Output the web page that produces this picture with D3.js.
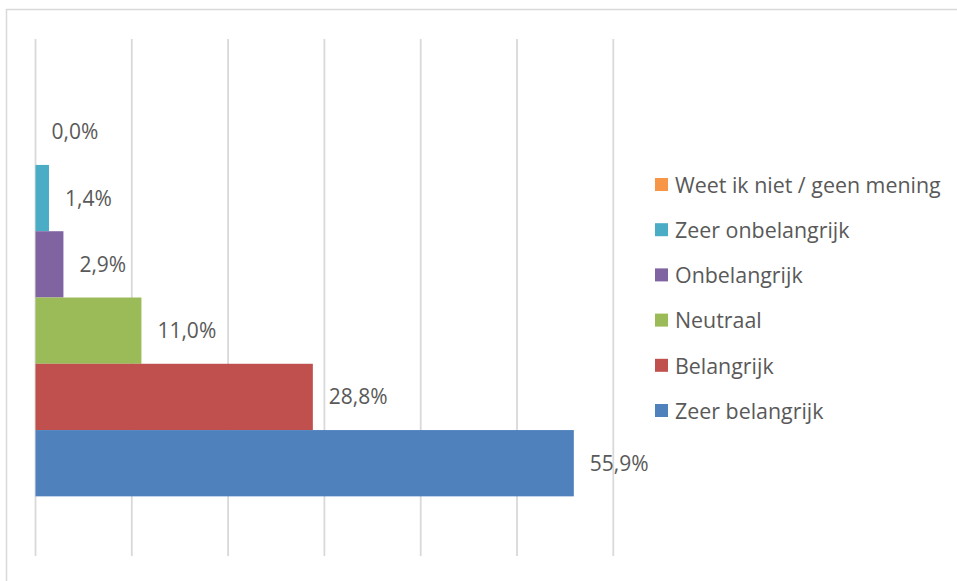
<!DOCTYPE html>
<html>
<head>
<meta charset="utf-8">
<script src="https://cdn.jsdelivr.net/npm/d3@7"></script>
<style>
  html, body { margin: 0; padding: 0; background: #fff; }
  svg { display: block; }
  text { font-family: "Open Sans", "Noto Sans", sans-serif; fill: #595959; }
</style>
</head>
<body>
<svg id="chart" width="957" height="581"></svg>
<script>
// Data (series in legend order, top to bottom)
const series = ["Weet ik niet / geen mening", "Zeer onbelangrijk", "Onbelangrijk", "Neutraal", "Belangrijk", "Zeer belangrijk"];
const values = [0.0, 1.4, 2.9, 11.0, 28.8, 55.9];
const colors = ["#F79646", "#4BACC6", "#8064A2", "#9BBB59", "#C0504D", "#4F81BD"];
const gridTicks = [0, 10, 20, 30, 40, 50, 60];

const svg = d3.select("#chart");
const W = 957, H = 581;

// Chart frame
svg.append("rect")
  .attr("x", 6.5).attr("y", 9.5)
  .attr("width", W + 10).attr("height", H + 10)
  .attr("fill", "none").attr("stroke", "#d9d9d9").attr("stroke-width", 1.5);

const plot = { left: 35.5, right: 613.3, top: 39, bottom: 556 };

const x = d3.scaleLinear().domain([0, 60]).range([plot.left, plot.right]);
const y = d3.scaleBand().domain(series).range([plot.top, plot.bottom])
  .paddingInner(0).paddingOuter(0.9);

// Gridlines
svg.append("g").selectAll("line").data(gridTicks).join("line")
  .attr("x1", d => x(d)).attr("x2", d => x(d))
  .attr("y1", plot.top).attr("y2", plot.bottom)
  .attr("stroke", "#d9d9d9").attr("stroke-width", 1.8);

// Bars
svg.append("g").selectAll("rect").data(series).join("rect")
  .attr("x", x(0))
  .attr("y", d => y(d))
  .attr("width", (d, i) => x(values[i]) - x(0))
  .attr("height", y.bandwidth())
  .attr("fill", (d, i) => colors[i]);

// Value labels
const fmt = v => v.toFixed(1).replace(".", ",") + "%";
svg.append("g").selectAll("text").data(series).join("text")
  .attr("x", (d, i) => x(values[i]) + 16)
  .attr("y", d => y(d) + y.bandwidth() / 2)
  .attr("dy", "0.36em")
  .attr("font-size", 21)
  .text((d, i) => fmt(values[i]));

// Legend
const legend = svg.append("g").attr("transform", "translate(655,0)");
const legY = d3.scalePoint().domain(series).range([185, 411]);
const items = legend.selectAll("g").data(series).join("g")
  .attr("transform", d => `translate(0,${legY(d)})`);
items.append("rect")
  .attr("x", 0).attr("y", -7).attr("width", 13).attr("height", 13)
  .attr("fill", (d, i) => colors[i]);
items.append("text")
  .attr("x", 20).attr("dy", "0.36em")
  .attr("font-size", 21.4)
  .text(d => d);
</script>
</body>
</html>
